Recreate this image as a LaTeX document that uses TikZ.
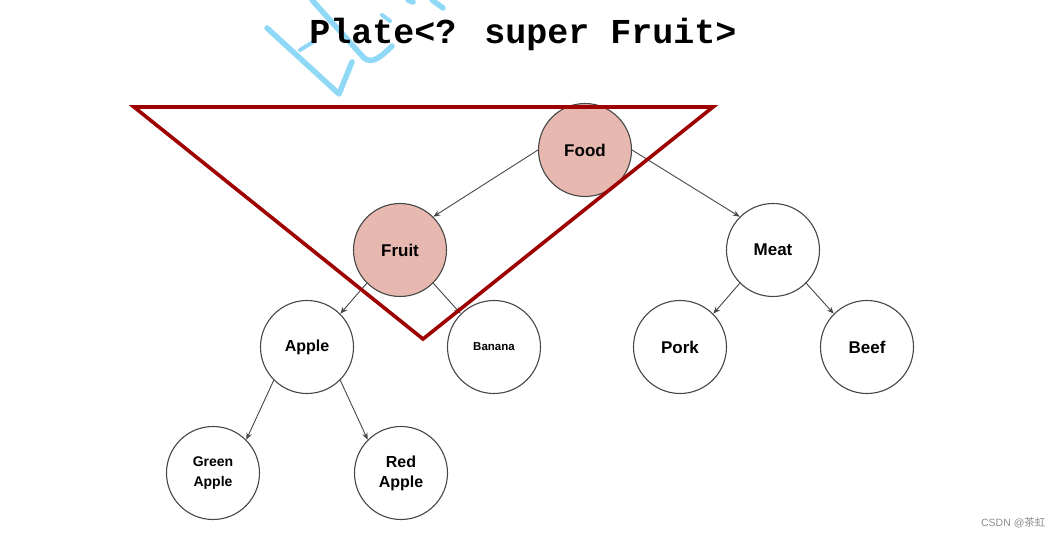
\documentclass[tikz,border=0pt]{standalone}
\usepackage{fontspec}
\setmainfont{Liberation Sans}
\newfontfamily\monob{Liberation Mono}
\newfontfamily\cjk{Noto Sans CJK SC}
\usetikzlibrary{arrows.meta}
\definecolor{nodefill}{HTML}{E6B8AF}
\definecolor{tri}{HTML}{9E0000}
\definecolor{wm}{HTML}{8FD9F6}
\tikzset{
  tnode/.style={circle, draw=black!72, line width=1.1pt, minimum size=93pt, inner sep=0pt,
    font=\bfseries\fontsize{17}{20}\selectfont, align=center},
  hot/.style={fill=nodefill},
  edge/.style={draw=black!72, line width=0.9pt, -{Stealth[length=7pt,width=5.5pt]}},
  wmark/.style={draw=wm, line width=5.5pt, line cap=round, line join=round},
}
\begin{document}
\begin{tikzpicture}[x=1pt,y=-1pt]
\useasboundingbox (0,0) rectangle (1063,538);
% watermark strokes
\draw[wmark] (267,28) -- (339,94) -- (352,62);
\draw[wmark, line width=4pt] (300,50) -- (313,42);
\draw[wmark] (312,0) -- (364,58) .. controls (372,64) and (380,58) .. (392,46);
\draw[wmark, line width=4pt] (382,15) -- (390,21);
\draw[wmark] (408,0) -- (413,2);
\draw[wmark] (432,0) -- (443,8);
% title
\node (title) at (523,34) {\monob\bfseries\fontsize{35}{40}\selectfont Plate<? super Fruit>};
% nodes
\node[tnode,hot] (food) at (585,150) {Food};
\node[tnode,hot] (fruit) at (400,250) {Fruit};
\node[tnode] (meat) at (773,250) {Meat};
\node[tnode] (apple) at (307,347) {\fontsize{16}{19}\selectfont Apple};
\node[tnode] (banana) at (494,347) {\fontsize{11.5}{14}\selectfont Banana};
\node[tnode] (pork) at (680,347) {Pork};
\node[tnode] (beef) at (867,347) {Beef};
\node[tnode] (green) at (213,473) {\fontsize{14}{18}\selectfont Green\\\fontsize{14}{18}\selectfont Apple};
\node[tnode] (red) at (401,473) {\fontsize{16}{20}\selectfont Red\\\fontsize{16}{20}\selectfont Apple};
% edges
\draw[edge] (food.west) -- (fruit.north east);
\draw[edge] (food.east) -- (meat.north west);
\draw[edge] (fruit.south west) -- (apple.north east);
\draw[edge] (fruit.south east) -- (banana.north west);
\draw[edge] (apple.south west) -- (green.north east);
\draw[edge] (apple.south east) -- (red.north west);
\draw[edge] (meat.south west) -- (pork.north east);
\draw[edge] (meat.south east) -- (beef.north west);
% triangle
\coordinate (t1) at (134,107);
\coordinate (t2) at (713,107);
\coordinate (t3) at (423,339);
\draw[tri, line width=3.6pt, line join=miter] (t1) -- (t2) -- (t3) -- cycle;
% footer watermark
\node[text=black!45, font=\fontsize{10.5}{12}\selectfont, anchor=east] (csdn) at (1049,523) {CSDN @{\cjk 茶虹}};
\end{tikzpicture}
\end{document}
